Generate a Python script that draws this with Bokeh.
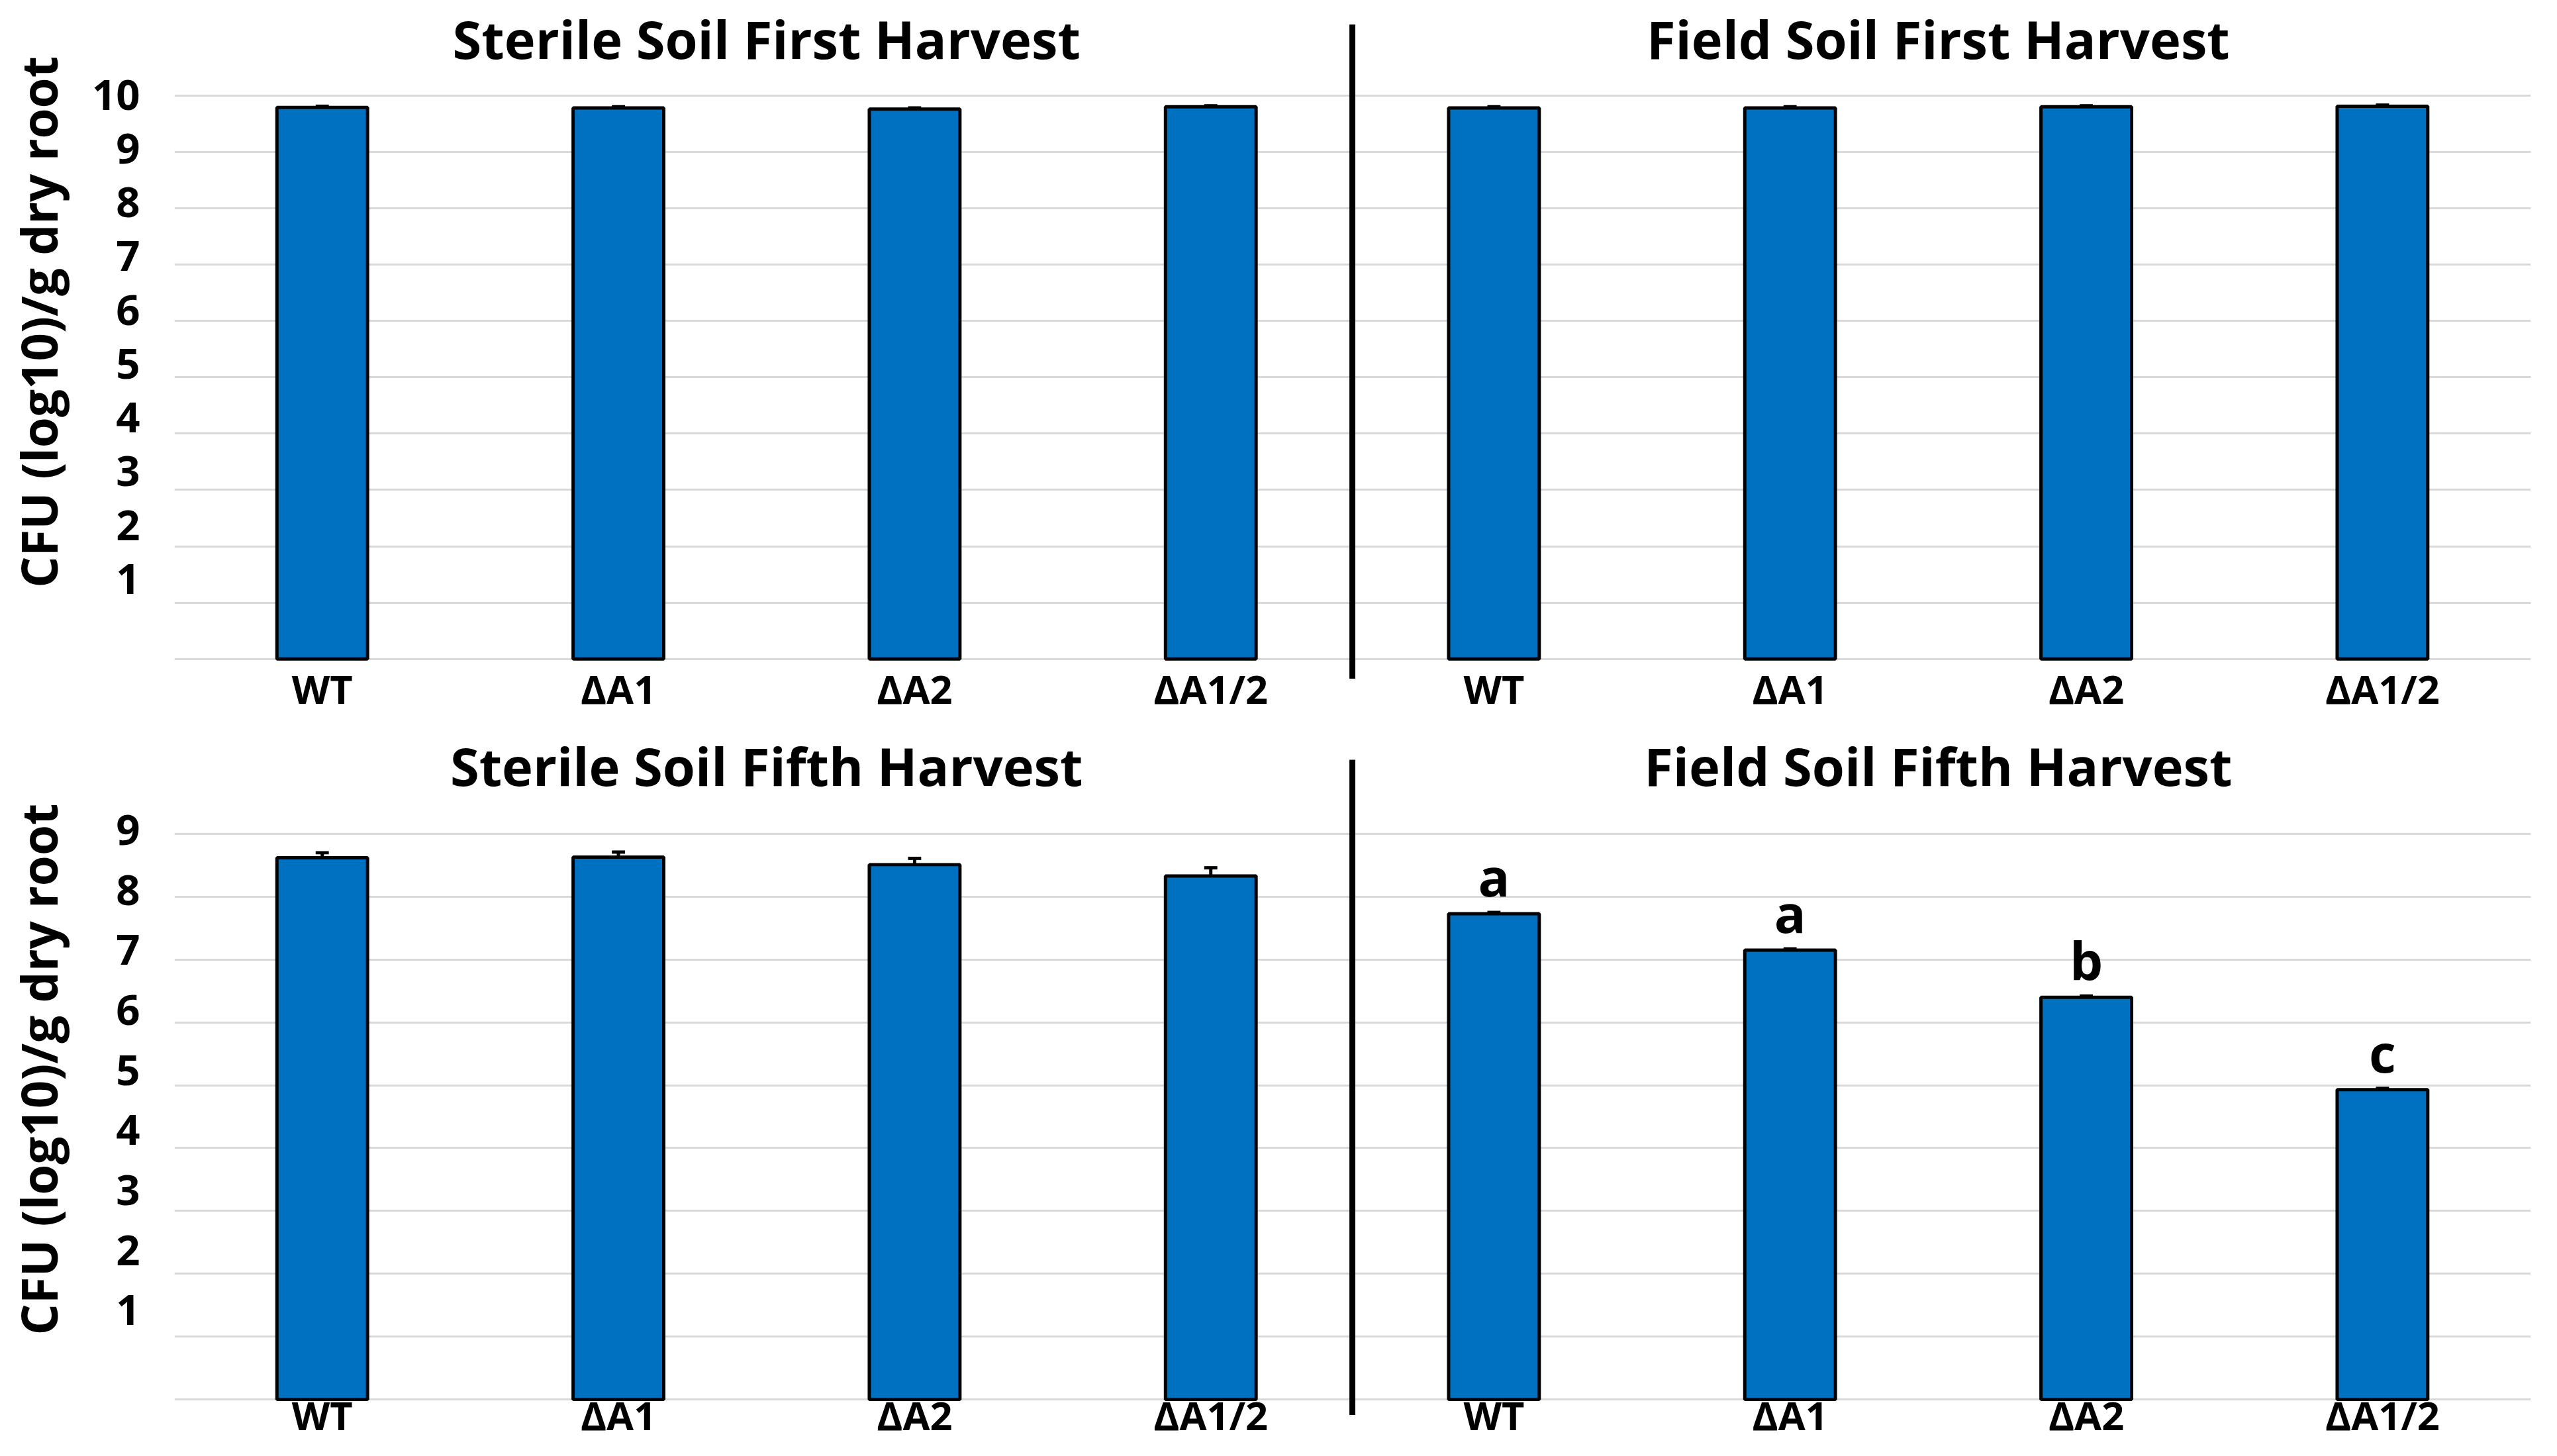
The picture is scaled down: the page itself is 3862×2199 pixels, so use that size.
import math
from bokeh.plotting import figure
from bokeh.models import FixedTicker, Range1d, ColumnDataSource, Whisker, TeeHead
from bokeh.layouts import column, row
from bokeh.embed import file_html
from bokeh.resources import INLINE
from bokeh.core.properties import value

# ---------------- data ----------------
categories = ["WT", "ΔA1", "ΔA2", "ΔA1/2"]

titles_first = ["Sterile Soil First Harvest", "Field Soil First Harvest"]
titles_fifth = ["Sterile Soil Fifth Harvest", "Field Soil Fifth Harvest"]

sterile_first = [9.79, 9.78, 9.76, 9.80]
sterile_first_err = [0.02, 0.02, 0.02, 0.02]
field_first = [9.78, 9.78, 9.80, 9.81]
field_first_err = [0.02, 0.02, 0.02, 0.02]

sterile_fifth = [8.62, 8.63, 8.51, 8.33]
sterile_fifth_err = [0.08, 0.08, 0.10, 0.13]
field_fifth = [7.73, 7.15, 6.40, 4.93]
field_fifth_err = [0.02, 0.02, 0.02, 0.02]
field_fifth_letters = ["a", "a", "b", "c"]

y_labels_first = ["1", "2", "3", "4", "5", "6", "7", "8", "9", "10"]
y_labels_fifth = ["1", "2", "3", "4", "5", "6", "7", "8", "9"]

y_axis_title = "CFU (log10)/g dry root"

# ---------------- style / layout ----------------
S = 0.992
FONT = "Open Sans"
BLUE = "#0070C0"
GRID = "#D9D9D9"
GROUP_START = [0.0, 3.956]      # panel offsets on the shared x scale
BAR_W = 0.306
LABEL_STEP = 0.955              # the hand-placed tick labels sit slightly off the grid
LABEL_SHIFT = 0.465
LETTER_GAP = 0.58
TITLE_STRIP = 132               # width of the strip holding the y-axis title


def px(v):
    return round(v * S)


def fs(v):
    return f"{v * S:.1f}px"


def ytitle_strip(height, centre_from_top):
    """Narrow strip left of a row that carries the rotated y-axis title."""
    s = figure(width=px(TITLE_STRIP), height=px(height),
               x_range=Range1d(0, TITLE_STRIP), y_range=Range1d(0, height),
               output_backend="svg", toolbar_location=None,
               min_border=0)
    s.outline_line_color = None
    s.background_fill_color = "white"
    s.border_fill_color = "white"
    s.xaxis.visible = False
    s.yaxis.visible = False
    s.xgrid.visible = False
    s.ygrid.visible = False
    s.text(x=[58], y=[height - centre_from_top], text=[y_axis_title],
           angle=math.pi / 2, text_align="center", text_baseline="alphabetic",
           text_font=value(FONT), text_font_style="bold",
           text_font_size=fs(75), text_color="black")
    return s


def make_row(panels, titles, y_labels, n_grid, y_start, y_end, title_y, div_top,
             div_bottom, cat_y, height, letters=None):
    p = figure(width=px(3862 - TITLE_STRIP), height=px(height),
               x_range=Range1d(-0.499, 7.457), y_range=Range1d(y_start, y_end),
               output_backend="svg", toolbar_location=None,
               min_border_left=px(265 - TITLE_STRIP), min_border_right=px(9),
               min_border_top=0, min_border_bottom=0)
    p.outline_line_color = None
    p.background_fill_color = "white"
    p.border_fill_color = "white"
    p.xgrid.visible = False
    p.xaxis.visible = False
    p.ygrid.ticker = FixedTicker(ticks=list(range(0, n_grid + 1)))
    p.ygrid.grid_line_color = GRID
    p.ygrid.grid_line_width = 3 * S

    # y axis
    yt, yl = [], {}
    for k, lab in enumerate(y_labels, start=1):
        pos = round(k * LABEL_STEP + LABEL_SHIFT, 3)
        yt.append(pos)
        yl[pos] = lab
    p.yaxis.ticker = FixedTicker(ticks=yt)
    p.yaxis.major_label_overrides = yl
    p.yaxis.major_label_text_font = FONT
    p.yaxis.major_label_text_font_style = "bold"
    p.yaxis.major_label_text_font_size = fs(64)
    p.yaxis.major_label_text_color = "black"
    p.yaxis.major_label_standoff = px(46)
    p.yaxis.axis_line_color = None
    p.yaxis.major_tick_line_color = None
    p.yaxis.minor_tick_line_color = None

    # bars + error bars
    all_x = []
    for start, (vals, errs) in zip(GROUP_START, panels):
        xs = [start + i for i in range(len(categories))]
        all_x += xs
        src = ColumnDataSource(dict(
            x=xs, top=vals,
            upper=[v + e for v, e in zip(vals, errs)],
            lower=[v - e for v, e in zip(vals, errs)]))
        p.vbar(x="x", top="top", bottom=0, width=BAR_W, source=src,
               fill_color=BLUE, line_color="black", line_width=5 * S)
        w = Whisker(source=src, base="x", upper="upper", lower="lower",
                    line_color="black", line_width=5 * S,
                    upper_head=TeeHead(size=20 * S, line_width=5 * S, line_color="black"),
                    lower_head=TeeHead(size=20 * S, line_width=5 * S, line_color="black"))
        p.add_layout(w)

    # category labels under the bars
    p.text(x=all_x, y=[cat_y] * len(all_x), text=categories * len(GROUP_START),
           text_align="center", text_baseline="alphabetic",
           text_font=value(FONT), text_font_style="bold",
           text_font_size=fs(60), text_color="black")

    # significance letters
    if letters is not None:
        vals, errs = panels[1]
        xs = [GROUP_START[1] + i for i in range(len(categories))]
        p.text(x=xs, y=[v + e + LETTER_GAP for v, e in zip(vals, errs)], text=letters,
               text_align="center", text_baseline="alphabetic",
               text_font=value(FONT), text_font_style="bold",
               text_font_size=fs(80), text_color="black")

    # panel titles
    centers = [s + (len(categories) - 1) / 2 for s in GROUP_START]
    p.text(x=centers, y=[title_y, title_y], text=titles,
           text_align="center", text_baseline="alphabetic",
           text_font=value(FONT), text_font_style="bold",
           text_font_size=fs(80), text_color="black")

    # divider between panels
    div_x = (GROUP_START[0] + len(categories) - 1 + GROUP_START[1]) / 2
    p.segment(x0=[div_x], y0=[div_bottom], x1=[div_x], y1=[div_top],
              line_color="black", line_width=9 * S)
    return p


top = make_row([(sterile_first, sterile_first_err), (field_first, field_first_err)],
               titles_first, y_labels_first, 10,
               y_start=-1.037, y_end=11.690, title_y=11.01, div_top=11.26,
               div_bottom=-0.350, cat_y=-0.524, height=1092)

bottom = make_row([(sterile_fifth, sterile_fifth_err), (field_fifth, field_fifth_err)],
                  titles_fifth, y_labels_fifth, 9,
                  y_start=-0.715, y_end=10.853, title_y=10.09, div_top=10.18,
                  div_bottom=-0.245, cat_y=-0.245, height=1107,
                  letters=field_fifth_letters)

layout = column(row(ytitle_strip(1092, 490), top, spacing=0),
                row(ytitle_strip(1107, 536), bottom, spacing=0), spacing=0)
open("out.html", "w").write(file_html(layout, INLINE))
